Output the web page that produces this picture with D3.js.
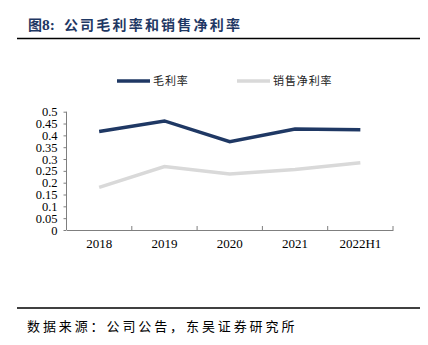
<!DOCTYPE html>
<html><head><meta charset="utf-8">
<script src="https://cdn.jsdelivr.net/npm/d3@7"></script>
<style>body{margin:0;background:#fff}svg{display:block}</style>
</head><body>
<script>
const categories = ["2018","2019","2020","2021","2022H1"];
const grossMargin = [0.416, 0.461, 0.373, 0.427, 0.424];
const netMargin = [0.180, 0.268, 0.237, 0.256, 0.284];
const yTicks = [0,0.05,0.1,0.15,0.2,0.25,0.3,0.35,0.4,0.45,0.5];
const seriesNames = ["毛利率","销售净利率"];

const W=428,H=345;
const svg=d3.select("body").append("svg").attr("width",W).attr("height",H);
const cjk='"Noto Sans CJK SC", sans-serif';
const serif='"Liberation Serif", "Times New Roman", serif';
const navy="#1f3864", gray="#d9d9d9";

// title
const t=svg.append("text").attr("x",28).attr("y",30).attr("fill",navy).attr("font-size",14).attr("font-weight","bold");
t.append("tspan").attr("font-family",cjk).text("图");
t.append("tspan").attr("font-family",serif).attr("font-size",15.5).text("8:");
t.append("tspan").attr("font-family",cjk).attr("dx",9).attr("letter-spacing",2.2).text("公司毛利率和销售净利率");
svg.append("line").attr("x1",17).attr("x2",420).attr("y1",38.5).attr("y2",38.5).attr("stroke","#000").attr("stroke-width",1.5);

// legend
const leg=[{n:seriesNames[0],c:navy,x:117},{n:seriesNames[1],c:gray,x:237}];
leg.forEach(l=>{
  svg.append("line").attr("x1",l.x).attr("x2",l.x+33).attr("y1",81).attr("y2",81).attr("stroke",l.c).attr("stroke-width",3.5);
  svg.append("text").attr("x",l.x+36).attr("y",85).attr("font-family",cjk).attr("font-size",11).attr("letter-spacing",0.9).attr("fill","#222").text(l.n);
});

const x=d3.scaleBand().domain(categories).range([66.5,393]);
const y=d3.scaleLinear().domain([0,0.5]).range([230,111.7]);

// x axis
const xa=svg.append("g").attr("transform","translate(0,230)")
  .call(d3.axisBottom(x).tickSize(0).tickPadding(9));
xa.select(".domain").attr("stroke","#7f7f7f");
xa.selectAll("text").attr("font-family",serif).attr("font-size",13).attr("fill","#000");
svg.append("g").selectAll("line").data(categories.slice(1).concat(["end"])).join("line")
  .attr("x1",d=>d==="end"?393:x(d)).attr("x2",d=>d==="end"?393:x(d))
  .attr("y1",230).attr("y2",226).attr("stroke","#7f7f7f");

// y axis
const ya=svg.append("g").attr("transform","translate(66.5,0)")
  .call(d3.axisLeft(y).tickValues(yTicks).tickFormat(d=>String(+d.toFixed(2))).tickSize(3).tickPadding(6));
ya.select(".domain").attr("stroke","#7f7f7f").attr("d","M0,230V111.7");
ya.selectAll(".tick line").attr("stroke","#7f7f7f");
ya.selectAll("text").attr("font-family",serif).attr("font-size",12.5).attr("fill","#000");

const line=d3.line().x((d,i)=>x(categories[i])+x.bandwidth()/2).y(d=>y(d));
svg.append("path").datum(netMargin).attr("d",line).attr("fill","none").attr("stroke",gray).attr("stroke-width",3.5);
svg.append("path").datum(grossMargin).attr("d",line).attr("fill","none").attr("stroke",navy).attr("stroke-width",3.5);

// footer
svg.append("line").attr("x1",17).attr("x2",420).attr("y1",308).attr("y2",308).attr("stroke","#000").attr("stroke-width",1.5);
svg.append("text").attr("x",27).attr("y",331).attr("font-family",cjk).attr("font-size",13).attr("letter-spacing",2.9).attr("fill","#000").text("数据来源：公司公告，东吴证券研究所");
</script>
</body></html>
